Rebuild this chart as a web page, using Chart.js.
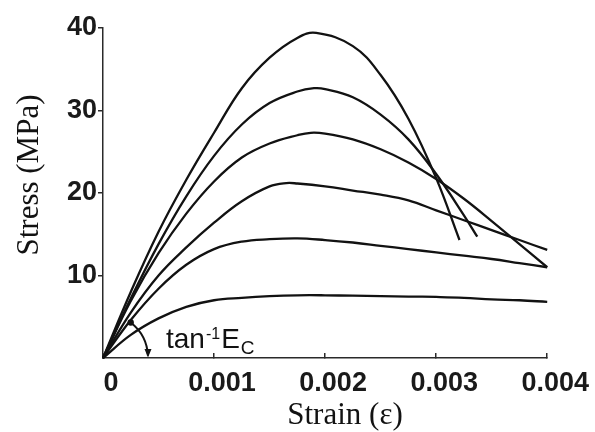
<!DOCTYPE html>
<html>
<head>
<meta charset="utf-8">
<script src="https://cdn.jsdelivr.net/npm/chart.js@4.4.0/dist/chart.umd.min.js"></script>
<style>
html,body{margin:0;padding:0;background:#fff;}
#wrap{width:595px;height:432px;}
</style>
</head>
<body>
<div id="wrap"><canvas id="c" width="595" height="432"></canvas></div>
<script>
// ---- Data ----
const xTickLabels = ['0', '0.001', '0.002', '0.003', '0.004'];
const yTickLabels = ['', '10', '20', '30', '40'];
const xTitle = 'Strain (\u03B5)';
const yTitle = 'Stress (MPa)';
const annotMain = 'tan';
const annotSup = '-1';
const annotE = 'E';
const annotSub = 'C';

const strain1 = [0, 0.00025, 0.0005, 0.00075, 0.001, 0.00125, 0.0015, 0.00175, 0.00192, 0.00225, 0.0025, 0.00275, 0.003, 0.00321];
const stress1 = [0, 8.0, 15.3, 21.6, 27.3, 32.7, 36.4, 38.8, 39.4, 37.8, 34.3, 29.0, 21.8, 14.3];

const strain2 = [0, 0.00025, 0.0005, 0.00075, 0.001, 0.00125, 0.0015, 0.00175, 0.0019, 0.002, 0.00225, 0.0025, 0.00275, 0.003, 0.00325, 0.00337];
const stress2 = [0, 7.2, 13.8, 19.6, 24.5, 28.3, 30.9, 32.3, 32.7, 32.6, 31.6, 29.5, 26.5, 22.3, 17.3, 14.7];

const strain3 = [0, 0.00025, 0.0005, 0.00075, 0.001, 0.00125, 0.0015, 0.00175, 0.00187, 0.002, 0.00225, 0.0025, 0.00275, 0.003, 0.00325, 0.0035, 0.00375, 0.004];
const stress3 = [0, 6.9, 12.7, 17.5, 21.4, 24.3, 26.0, 27.0, 27.3, 27.2, 26.5, 25.3, 23.7, 21.7, 19.3, 16.6, 13.8, 11.0];

const strain4 = [0, 0.00025, 0.0005, 0.00075, 0.001, 0.00125, 0.0015, 0.00165, 0.00175, 0.002, 0.00225, 0.0025, 0.00275, 0.003, 0.00325, 0.0035, 0.00375, 0.004];
const stress4 = [0, 5.5, 10.0, 13.4, 16.4, 19.0, 20.8, 21.2, 21.15, 20.8, 20.3, 19.8, 19.1, 17.9, 16.7, 15.5, 14.3, 13.1];

const strain5 = [0, 0.00025, 0.0005, 0.00075, 0.001, 0.00125, 0.0015, 0.00175, 0.002, 0.00225, 0.0025, 0.00275, 0.003, 0.00325, 0.0035, 0.00375, 0.004];
const stress5 = [0, 4.6, 8.4, 11.3, 13.2, 14.1, 14.4, 14.5, 14.3, 14.0, 13.6, 13.2, 12.8, 12.4, 12.0, 11.5, 11.0];

const strain6 = [0, 0.00025, 0.0005, 0.00075, 0.001, 0.00125, 0.0015, 0.00175, 0.002, 0.00225, 0.0025, 0.00275, 0.003, 0.00325, 0.0035, 0.00375, 0.004];
const stress6 = [0, 2.8, 4.8, 6.2, 7.0, 7.3, 7.5, 7.6, 7.6, 7.55, 7.5, 7.45, 7.4, 7.3, 7.1, 7.0, 6.8];

// ---- Build chart ----
const series = [[strain1, stress1], [strain2, stress2], [strain3, stress3], [strain4, stress4], [strain5, stress5], [strain6, stress6]];
const lineColor = '#121212';
const datasets = series.map(([xs, ys], i) => ({
  label: 'curve ' + (i + 1),
  data: xs.map((x, k) => ({x: x, y: ys[k]})),
  borderColor: lineColor,
  borderWidth: 2.3,
  pointRadius: 0,
  fill: false,
  tension: 0.4,
  clip: false
}));

const tickFont = {family: '"Liberation Sans", Arial, Helvetica, sans-serif', size: 27, weight: 'bold'};
const axisColor = '#2a2a2a';

const annotationPlugin = {
  id: 'annotations',
  afterDraw(chart) {
    const {ctx, scales: {x, y}} = chart;
    const ox = x.getPixelForValue(0);
    const oy = y.getPixelForValue(0);
    ctx.save();
    // angle arc with arrow
    ctx.strokeStyle = '#121212';
    ctx.fillStyle = '#121212';
    ctx.lineWidth = 2;
    const r = 45;
    const a0 = -52 * Math.PI / 180;
    const a1 = -3 * Math.PI / 180;
    ctx.beginPath();
    ctx.arc(ox, oy, r, a0, a1);
    ctx.stroke();
    ctx.beginPath();
    ctx.arc(ox + r * Math.cos(a0), oy + r * Math.sin(a0), 3.2, 0, Math.PI * 2);
    ctx.fill();
    const ex = ox + r;
    ctx.beginPath();
    ctx.moveTo(ex, oy - 0.5);
    ctx.lineTo(ex - 3.5, oy - 9);
    ctx.lineTo(ex + 3.5, oy - 9);
    ctx.closePath();
    ctx.fill();
    // annotation text  tan^-1 E_C
    ctx.textBaseline = 'alphabetic';
    ctx.textAlign = 'left';
    const fam = '"Liberation Sans", Arial, Helvetica, sans-serif';
    let tx = ox + 63;
    const base = oy - 10;
    ctx.font = '28px ' + fam;
    ctx.fillText(annotMain, tx, base);
    tx += ctx.measureText(annotMain).width + 1;
    ctx.font = '16px ' + fam;
    ctx.fillText(annotSup, tx, base - 9);
    tx += ctx.measureText(annotSup).width + 1;
    ctx.font = '28px ' + fam;
    ctx.fillText(annotE, tx, base);
    tx += ctx.measureText(annotE).width + 1;
    ctx.font = '19px ' + fam;
    ctx.fillText(annotSub, tx, base + 6);

    // axis titles
    const serif = '"Liberation Serif", "Times New Roman", Times, serif';
    ctx.font = '31px ' + serif;
    ctx.textAlign = 'center';
    ctx.textBaseline = 'alphabetic';
    const ca = chart.chartArea;
    ctx.fillText(xTitle, ca.left + 242, chart.height - 8);
    ctx.translate(38, ca.top + 147);
    ctx.rotate(-Math.PI / 2);
    ctx.fillText(yTitle, 0, 0);
    ctx.restore();
  }
};

new Chart(document.getElementById('c'), {
  type: 'line',
  data: {datasets: datasets},
  options: {
    responsive: false,
    animation: false,
    layout: {padding: {left: 0, right: 45, top: 28, bottom: 0}},
    plugins: {legend: {display: false}, tooltip: {enabled: false}, title: {display: false}},
    scales: {
      x: {
        type: 'linear',
        min: 0, max: 0.004,
        afterFit: (s) => { s.height = 74; },
        afterBuildTicks: (s) => { s.ticks = xTickLabels.map((t, i) => ({value: i * 0.001})); },
        ticks: {
          callback: (v, i) => xTickLabels[i],
          font: tickFont, color: '#1a1a1a',
          padding: 14, labelOffset: 8, maxRotation: 0, autoSkip: false
        },
        grid: {display: true, drawOnChartArea: false, drawTicks: true, tickLength: -5, color: axisColor, lineWidth: 1.5},
        border: {display: true, color: axisColor, width: 1.5}
      },
      y: {
        type: 'linear',
        min: 0, max: 40,
        afterFit: (s) => { s.width = 103; },
        afterBuildTicks: (s) => { s.ticks = yTickLabels.map((t, i) => ({value: i * 10})); },
        ticks: {
          callback: (v, i) => (yTickLabels[i] === '' ? null : yTickLabels[i]),
          font: tickFont, color: '#1a1a1a', padding: 1, autoSkip: false
        },
        grid: {display: true, drawOnChartArea: false, drawTicks: true, tickLength: 5, color: axisColor, lineWidth: 1.5},
        border: {display: true, color: axisColor, width: 1.5}
      }
    }
  },
  plugins: [annotationPlugin]
});
</script>
</body>
</html>
